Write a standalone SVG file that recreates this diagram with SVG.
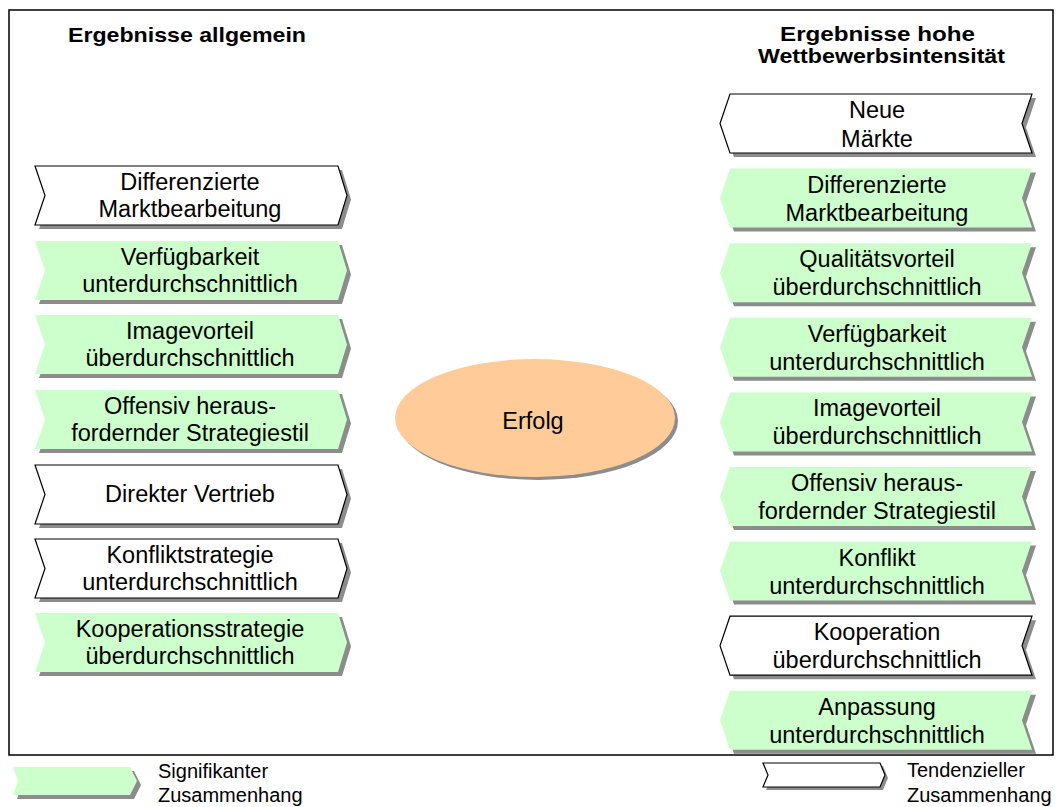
<svg xmlns="http://www.w3.org/2000/svg" xmlns:xlink="http://www.w3.org/1999/xlink" width="1058" height="807" viewBox="0 0 1058 807">
<style>
text{font-family:"Liberation Sans",Arial,sans-serif;fill:#000}
.t{font-size:23.5px;text-anchor:middle}
.h{font-size:21px;font-weight:bold;text-anchor:middle}
.lg{font-size:20px}
.sh{fill:#8c8c8c;stroke:none}
.g{fill:#ccffcc;stroke:none}
.w{fill:#ffffff;stroke:#000;stroke-width:1.2}
</style>
<defs>
<path id="chL" d="M0,0 L303,0 L312,29.5 L303,59 L0,59 L10,29.5 Z"/>
<path id="chR" d="M10,0 L312,0 L302,29.5 L312,59 L10,59 L0,29.5 Z"/>
<path id="lgG" d="M0,0 L117,0 L124,14 L117,28 L0,28 L5,14 Z"/>
<path id="lgW" d="M0,0 L117,0 L122,12 L117,24 L0,24 L5,12 Z"/>
</defs>
<rect x="9" y="10" width="1044" height="745" fill="#fff" stroke="#000" stroke-width="1.5"/>
<text class="h" x="187" y="41.5" textLength="238" lengthAdjust="spacingAndGlyphs">Ergebnisse allgemein</text>
<text class="h" x="877.5" y="40.5" textLength="195" lengthAdjust="spacingAndGlyphs">Ergebnisse hohe</text>
<text class="h" x="881.5" y="63" textLength="247" lengthAdjust="spacingAndGlyphs">Wettbewerbsintensität</text>
<g id="connectors"></g>
<g id="L1"><use href="#chL" class="sh" x="39" y="170"/><use href="#chL" class="w" x="35" y="166"/><text class="t" x="190" y="189.5">Differenzierte</text><text class="t" x="190" y="217">Marktbearbeitung</text></g>
<g id="L2"><use href="#chL" class="sh" x="39" y="245"/><use href="#chL" class="g" x="35" y="241"/><text class="t" x="190" y="264.5">Verfügbarkeit</text><text class="t" x="190" y="292">unterdurchschnittlich</text></g>
<g id="L3"><use href="#chL" class="sh" x="39" y="319"/><use href="#chL" class="g" x="35" y="315"/><text class="t" x="190" y="338.5">Imagevorteil</text><text class="t" x="190" y="366">überdurchschnittlich</text></g>
<g id="L4"><use href="#chL" class="sh" x="39" y="394"/><use href="#chL" class="g" x="35" y="390"/><text class="t" x="190" y="413.5">Offensiv heraus-</text><text class="t" x="190" y="441">fordernder Strategiestil</text></g>
<g id="L5"><use href="#chL" class="sh" x="39" y="469"/><use href="#chL" class="w" x="35" y="465"/><text class="t" x="190" y="502">Direkter Vertrieb</text></g>
<g id="L6"><use href="#chL" class="sh" x="39" y="543"/><use href="#chL" class="w" x="35" y="539"/><text class="t" x="190" y="562.5">Konfliktstrategie</text><text class="t" x="190" y="590">unterdurchschnittlich</text></g>
<g id="L7"><use href="#chL" class="sh" x="39" y="617"/><use href="#chL" class="g" x="35" y="613"/><text class="t" x="190" y="636.5">Kooperationsstrategie</text><text class="t" x="190" y="664">überdurchschnittlich</text></g>
<g id="erfolg"><ellipse cx="538" cy="421" rx="140" ry="59" class="sh"/><ellipse cx="535" cy="418" rx="140" ry="59" fill="#ffcc99"/><text class="t" x="533" y="429">Erfolg</text></g>
<g id="R1"><use href="#chR" class="sh" x="724" y="98"/><use href="#chR" class="w" x="720" y="94"/><text class="t" x="877" y="118">Neue</text><text class="t" x="877" y="146.5">Märkte</text></g>
<g id="R2"><use href="#chR" class="sh" x="724" y="172.6"/><use href="#chR" class="g" x="720" y="168.6"/><text class="t" x="877" y="192.6">Differenzierte</text><text class="t" x="877" y="220.6">Marktbearbeitung</text></g>
<g id="R3"><use href="#chR" class="sh" x="724" y="247.2"/><use href="#chR" class="g" x="720" y="243.2"/><text class="t" x="877" y="267.2">Qualitätsvorteil</text><text class="t" x="877" y="295.2">überdurchschnittlich</text></g>
<g id="R4"><use href="#chR" class="sh" x="724" y="321.8"/><use href="#chR" class="g" x="720" y="317.8"/><text class="t" x="877" y="341.8">Verfügbarkeit</text><text class="t" x="877" y="369.8">unterdurchschnittlich</text></g>
<g id="R5"><use href="#chR" class="sh" x="724" y="396.4"/><use href="#chR" class="g" x="720" y="392.4"/><text class="t" x="877" y="416.4">Imagevorteil</text><text class="t" x="877" y="444.4">überdurchschnittlich</text></g>
<g id="R6"><use href="#chR" class="sh" x="724" y="471"/><use href="#chR" class="g" x="720" y="467"/><text class="t" x="877" y="491">Offensiv heraus-</text><text class="t" x="877" y="519">fordernder Strategiestil</text></g>
<g id="R7"><use href="#chR" class="sh" x="724" y="545.6"/><use href="#chR" class="g" x="720" y="541.6"/><text class="t" x="877" y="565.6">Konflikt</text><text class="t" x="877" y="593.6">unterdurchschnittlich</text></g>
<g id="R8"><use href="#chR" class="sh" x="724" y="620.2"/><use href="#chR" class="w" x="720" y="616.2"/><text class="t" x="877" y="640.2">Kooperation</text><text class="t" x="877" y="668.2">überdurchschnittlich</text></g>
<g id="R9"><use href="#chR" class="sh" x="724" y="694.8"/><use href="#chR" class="g" x="720" y="690.8"/><text class="t" x="877" y="714.8">Anpassung</text><text class="t" x="877" y="742.8">unterdurchschnittlich</text></g>
<g id="legend-sig"><use href="#lgG" class="sh" x="17" y="771"/><use href="#lgG" class="g" x="13" y="767"/><text class="lg" x="158" y="778">Signifikanter</text><text class="lg" x="158" y="801.5">Zusammenhang</text></g>
<g id="legend-tend"><use href="#lgW" class="sh" x="766" y="766"/><use href="#lgW" class="w" x="763" y="763"/><text class="lg" x="907" y="777">Tendenzieller</text><text class="lg" x="907" y="801.5">Zusammenhang</text></g>
</svg>
